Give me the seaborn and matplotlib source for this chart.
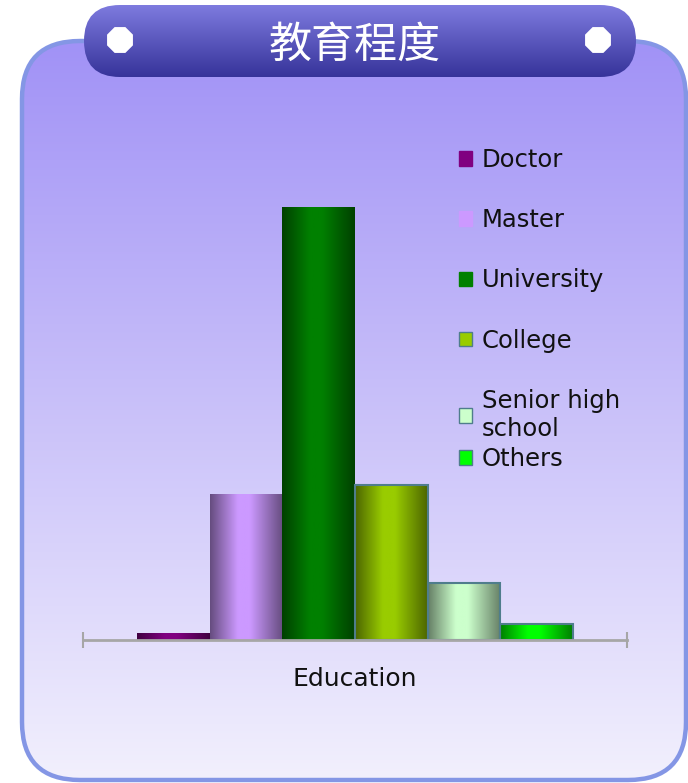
import numpy as np
import pandas as pd
import matplotlib
matplotlib.use('Agg')
import matplotlib.pyplot as plt
from matplotlib.patches import FancyBboxPatch, RegularPolygon, Patch
from matplotlib.colors import LinearSegmentedColormap, to_rgb
import seaborn as sns

# Data
title = '教育程度'
category = 'Education'
levels = ['Doctor', 'Master', 'University', 'College', 'Senior high\nschool', 'Others']
shares = [0.9, 17.9, 53.2, 19.0, 7.0, 2.0]
colors = ['#800080', '#cc99ff', '#008000', '#99cc00', '#ccffcc', '#00ff00']
outlined = [False, False, False, True, True, True]

df = pd.DataFrame({'group': category, 'level': levels, 'share': shares})

sns.set_theme(style='white')
plt.rcParams['font.family'] = ['DejaVu Sans', 'Noto Sans CJK SC']

W, H = 688, 783
fig = plt.figure(figsize=(W / 100, H / 100), dpi=100)
fig.patch.set_facecolor('white')

# background layer in pixel coordinates
bg = fig.add_axes([0, 0, 1, 1])
bg.axis('off')
vgrad = np.linspace(0, 1, 256)[:, None]

panel = FancyBboxPatch((22, 41), 664, 739, boxstyle='round,pad=0,rounding_size=58',
                       facecolor='none', edgecolor='#8496e5', lw=3.2, zorder=1)
bg.add_patch(panel)
cm_bg = LinearSegmentedColormap.from_list('bg', ['#a192f6', '#f2f0fd'])
im = bg.imshow(vgrad, extent=[22, 686, 780, 41], cmap=cm_bg, aspect='auto', zorder=0)
im.set_clip_path(panel)

# title banner
banner = FancyBboxPatch((84, 5), 552, 72, boxstyle='round,pad=0,rounding_size=36',
                        facecolor='none', edgecolor='none', zorder=2)
bg.add_patch(banner)
cm_ban = LinearSegmentedColormap.from_list('ban', ['#7e7bdf', '#36339a'])
im2 = bg.imshow(vgrad, extent=[84, 636, 77, 5], cmap=cm_ban, aspect='auto', zorder=2)
im2.set_clip_path(banner)
for cx in (120, 598):
    bg.add_patch(RegularPolygon((cx, 40), 8, radius=14, orientation=np.pi / 8,
                                facecolor='white', edgecolor='none', zorder=3))
bg.text(355, 46, title, color='white', fontsize=31, ha='center', va='center',
        family=['Noto Sans CJK SC', 'DejaVu Sans'], zorder=4)
bg.set_xlim(0, W)
bg.set_ylim(H, 0)

# chart
ax = fig.add_axes([83 / W, 1 - 640 / H, 544 / W, 488 / H])
ax.patch.set_alpha(0)
sns.barplot(data=df, x='group', y='share', hue='level', hue_order=levels,
            palette=colors, saturation=1, width=0.8, legend=False, ax=ax)

# cylinder-like shading on each bar
hgrad = np.linspace(0, 1, 128)[None, :]
for cont, c, edge in zip(ax.containers, colors, outlined):
    base = np.array(to_rgb(c))
    dark = base * 0.5
    cm = LinearSegmentedColormap.from_list('bar', [(0, dark), (0.38, base), (0.55, base), (1, dark)])
    for bar in cont:
        x0, w, h = bar.get_x(), bar.get_width(), bar.get_height()
        img = ax.imshow(hgrad, extent=[x0, x0 + w, 0, h], cmap=cm, aspect='auto', zorder=3)
        img.set_clip_path(bar)
        if edge:
            bar.set_facecolor('none')
            bar.set_edgecolor('#4f7d8c')
            bar.set_linewidth(1.5)
            bar.set_zorder(4)
        else:
            bar.set_linewidth(0)

ax.set_xlim(-0.5, 0.5)
ax.set_ylim(0, 60)
ax.set_yticks([])
ax.set_xlabel('')
ax.set_ylabel('')
for s in ['left', 'right', 'top']:
    ax.spines[s].set_visible(False)
ax.spines['bottom'].set_color('#a6a6a6')
ax.spines['bottom'].set_linewidth(2)
ax.spines['bottom'].set_zorder(5)
ax.set_xticks([0], [category])
ax.set_xticks([-0.5, 0.5], minor=True)
ax.tick_params(axis='x', which='major', bottom=True, length=0, pad=19.5, labelsize=18, labelcolor='#111111')
ax.tick_params(axis='x', which='minor', bottom=True, direction='inout', length=11, width=1.5, color='#a6a6a6')

# legend: first five entries, then "Others" sitting just under the two-line entry
handles = [Patch(facecolor=c, edgecolor='#4f7d8c' if o else c, lw=1) for c, o in zip(colors, outlined)]
leg_kw = dict(loc='upper left', bbox_transform=fig.transFigure, frameon=False, fontsize=17.5,
              handlelength=0.55, handleheight=0.55, handletextpad=0.4,
              labelspacing=1.49, borderpad=0, borderaxespad=0, labelcolor='#111111')
leg1 = ax.legend(handles[:5], levels[:5], bbox_to_anchor=(459 / W, 1 - 148 / H), **leg_kw)
ax.add_artist(leg1)
ax.legend(handles[5:], levels[5:], bbox_to_anchor=(459 / W, 1 - 447 / H), **leg_kw)

fig.savefig('out.png', dpi=100)
